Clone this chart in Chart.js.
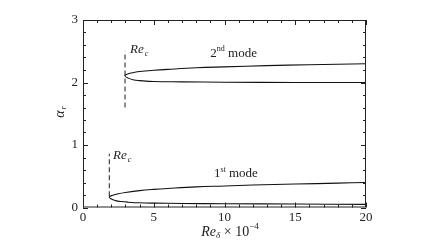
<!DOCTYPE html>
<html>
<head>
<meta charset="utf-8">
<script src="https://cdn.jsdelivr.net/npm/chart.js@4.4.0/dist/chart.umd.min.js"></script>
<style>
  body { margin: 0; background: #fff; }
  canvas { display: block; }
</style>
</head>
<body>
<canvas id="mycanvas" width="422" height="248"></canvas>
<script>
// 1st mode: upper branch (right to nose) then lower branch (nose to right)
var mode1X = [20, 18, 15, 12, 10, 8, 6, 5, 4, 3, 2.5, 2.1, 1.86, 2.0, 2.3, 2.7, 3.2, 4, 5, 7, 10, 15, 20];
var mode1Y = [0.40, 0.39, 0.375, 0.36, 0.345, 0.33, 0.305, 0.29, 0.27, 0.24, 0.22, 0.195, 0.17, 0.135, 0.11, 0.095, 0.085, 0.075, 0.07, 0.065, 0.06, 0.055, 0.05];

// 2nd mode
var mode2X = [20, 16, 13, 10, 8, 6, 5, 4, 3.6, 3.2, 2.95, 3.2, 3.6, 4, 5, 7, 10, 15, 20];
var mode2Y = [2.30, 2.285, 2.27, 2.25, 2.235, 2.21, 2.195, 2.175, 2.16, 2.14, 2.11, 2.07, 2.04, 2.03, 2.015, 2.01, 2.005, 2.0, 2.0];

// Re_c dashed markers
var reC1X = [1.86, 1.86];
var reC1Y = [0.18, 0.86];
var reC2X = [2.97, 2.97];
var reC2Y = [1.6, 2.5];

var xTicks = [0, 5, 10, 15, 20];
var yTicks = [0, 1, 2, 3];

function pts(xs, ys) {
  var out = [];
  for (var i in xs) out.push({x: xs[i], y: ys[i]});
  return out;
}

var serif = '"Liberation Serif", "Times New Roman", serif';

var frameTicks = {
  id: 'frameTicks',
  afterDraw: function(chart) {
    var c = chart.ctx, a = chart.chartArea;
    var xs = chart.scales.x, ys = chart.scales.y;
    c.save();
    c.strokeStyle = '#222';
    c.lineWidth = 1;
    c.strokeRect(a.left + 0.5, a.top + 0.5, a.right - a.left - 1, a.bottom - a.top - 1);
    c.beginPath();
    for (var v = 0; v <= 20.001; v += 1) {
      var px = Math.round(xs.getPixelForValue(v)) + 0.5;
      var len = (Math.round(v) % 5 === 0) ? 5 : 3;
      c.moveTo(px, a.bottom); c.lineTo(px, a.bottom - len);
      c.moveTo(px, a.top); c.lineTo(px, a.top + len);
    }
    for (var k = 0; k <= 15; k++) {
      var val = k * 0.2;
      var py = Math.round(ys.getPixelForValue(val)) + 0.5;
      var l2 = (k % 5 === 0) ? 5 : 3;
      c.moveTo(a.left, py); c.lineTo(a.left + l2, py);
      c.moveTo(a.right, py); c.lineTo(a.right - l2, py);
    }
    c.stroke();

    c.fillStyle = '#222';
    c.textBaseline = 'middle';

    // x axis title: Re_δ × 10^-4
    var parts = [
      {t: 'Re', f: 'italic 14px ' + serif, dy: 0},
      {t: 'δ', f: 'italic 9px ' + serif, dy: 4},
      {t: ' × 10', f: '14px ' + serif, dy: 0},
      {t: '−4', f: '9px ' + serif, dy: -5}
    ];
    var total = 0;
    parts.forEach(function(p) { c.font = p.f; total += c.measureText(p.t).width; });
    var cx = 230 - total / 2, cy = 232;
    c.textAlign = 'left';
    parts.forEach(function(p) { c.font = p.f; c.fillText(p.t, cx, cy + p.dy); cx += c.measureText(p.t).width; });

    // y axis title: α_r
    c.save();
    c.translate(60, 114);
    c.rotate(-Math.PI / 2);
    c.font = 'italic 14px ' + serif;
    c.textAlign = 'center';
    c.fillText('α', 0, 0);
    c.font = 'italic 8px ' + serif;
    c.fillText('r', 6, 4);
    c.restore();

    function label(x, y, main, sub, sup) {
      var px = xs.getPixelForValue(x), py = ys.getPixelForValue(y);
      c.textAlign = 'left';
      c.font = (sup ? '' : 'italic ') + '13px ' + serif;
      c.fillText(main, px, py);
      var w = c.measureText(main).width;
      if (sub) { c.font = 'italic 8px ' + serif; c.fillText(sub, px + w + 1, py + 4); }
      if (sup) {
        c.font = '8px ' + serif; c.fillText(sup.s, px + w, py - 4);
        var w2 = c.measureText(sup.s).width;
        c.font = '13px ' + serif; c.fillText(sup.rest, px + w + w2, py);
      }
    }
    label(3.33, 2.52, 'Re', 'c');
    label(2.12, 0.83, 'Re', 'c');
    label(9.0, 2.47, '2', null, {s: 'nd', rest: ' mode'});
    label(9.25, 0.54, '1', null, {s: 'st', rest: ' mode'});
    c.restore();
  }
};

var lineStyle = {
  borderColor: '#111',
  borderWidth: 1.1,
  pointRadius: 0,
  showLine: true,
  fill: false,
  tension: 0.4
};

var chartdata = {
  datasets: [
    Object.assign({label: '1st mode', data: pts(mode1X, mode1Y)}, lineStyle),
    Object.assign({label: '2nd mode', data: pts(mode2X, mode2Y)}, lineStyle),
    {label: 'Re_c 1', data: pts(reC1X, reC1Y), borderColor: '#333', borderWidth: 1.1, borderDash: [5, 3], pointRadius: 0, showLine: true, tension: 0},
    {label: 'Re_c 2', data: pts(reC2X, reC2Y), borderColor: '#333', borderWidth: 1.1, borderDash: [5, 3], pointRadius: 0, showLine: true, tension: 0}
  ]
};

var ctx = document.getElementById('mycanvas');

var graph = new Chart(ctx, {
  type: 'scatter',
  data: chartdata,
  plugins: [frameTicks],
  options: {
    responsive: false,
    animation: false,
    devicePixelRatio: 1,
    layout: { padding: { left: 0, top: 20, right: 56, bottom: 0 } },
    plugins: { legend: { display: false }, tooltip: { enabled: false } },
    scales: {
      x: {
        type: 'linear', min: 0, max: 20,
        grid: { display: false, drawTicks: false },
        border: { display: false },
        afterFit: function(s) { s.height = 40.5; },
        afterBuildTicks: function(s) { s.ticks = xTicks.map(function(v) { return {value: v}; }); },
        ticks: { color: '#222', padding: 2, maxRotation: 0, font: { family: serif, size: 13 } }
      },
      y: {
        type: 'linear', min: 0, max: 3,
        grid: { display: false, drawTicks: false },
        border: { display: false },
        afterFit: function(s) { s.width = 83; },
        afterBuildTicks: function(s) { s.ticks = yTicks.map(function(v) { return {value: v}; }); },
        ticks: { color: '#222', padding: 5, font: { family: serif, size: 13 } }
      }
    }
  }
});
</script>
</body>
</html>
